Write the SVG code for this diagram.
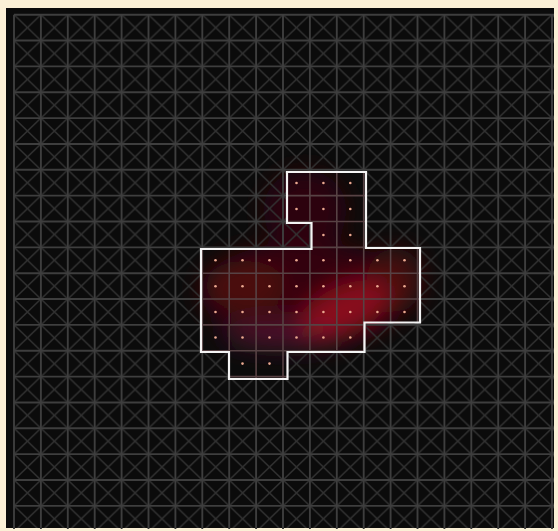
<svg xmlns="http://www.w3.org/2000/svg" xmlns:xlink="http://www.w3.org/1999/xlink" width="558" height="531" viewBox="0 0 558 531">
<style>
.dot{fill:#eaa890;}
.outline{fill:none;stroke:#f4f4f4;stroke-width:2.2;stroke-linejoin:miter;}
</style>
<defs>
<filter id="blur" x="-50%" y="-50%" width="200%" height="200%"><feGaussianBlur stdDeviation="12"/></filter>
<pattern id="diag" patternUnits="userSpaceOnUse" x="14" y="14.7" width="26.9" height="25.85">
<path d="M0 0L26.9 25.85M26.9 0L0 25.85" stroke="#323232" stroke-width="1.5" fill="none"/>
</pattern>
<path id="shape" d="M287 172H366V248H420V322.5H364.5V352H287.5V379H229V352H201V249H311.5V223H287Z"/>
<mask id="outside"><rect x="0" y="0" width="558" height="531" fill="#fff"/><use xlink:href="#shape" fill="#000"/></mask>
<clipPath id="inside"><use xlink:href="#shape"/></clipPath>
<path id="ortho" fill="none" d="M14 14.7V529M40.9 14.7V529M67.8 14.7V529M94.7 14.7V529M121.6 14.7V529M148.5 14.7V529M175.4 14.7V529M202.3 14.7V529M229.2 14.7V529M256.1 14.7V529M283 14.7V529M309.9 14.7V529M336.8 14.7V529M363.7 14.7V529M390.6 14.7V529M417.5 14.7V529M444.4 14.7V529M471.3 14.7V529M498.2 14.7V529M525.1 14.7V529M552 14.7V529M14 14.7H554M14 40.55H554M14 66.4H554M14 92.25H554M14 118.1H554M14 143.95H554M14 169.8H554M14 195.65H554M14 221.5H554M14 247.35H554M14 273.2H554M14 299.05H554M14 324.9H554M14 350.75H554M14 376.6H554M14 402.45H554M14 428.3H554M14 454.15H554M14 480H554M14 505.85H554"/>
</defs>
<rect x="0" y="0" width="558" height="531" fill="#fbf0d6"/>
<rect x="6" y="8" width="548" height="520" fill="#0b0b0b"/>
<g id="glow" filter="url(#blur)">
<ellipse cx="305" cy="292" rx="105" ry="50" fill="#380709" opacity="0.9"/>
<ellipse cx="305" cy="210" rx="42" ry="40" fill="#32060a" opacity="0.85"/>
<ellipse cx="245" cy="285" rx="40" ry="24" fill="#520a12" opacity="0.8"/>
<ellipse cx="395" cy="280" rx="28" ry="32" fill="#500a14" opacity="0.8"/>
<ellipse cx="285" cy="334" rx="62" ry="14" fill="#5a1836" opacity="0.75"/>
<ellipse cx="345" cy="310" rx="46" ry="24" fill="#a01424" opacity="0.8" transform="rotate(-25 345 310)"/>
</g>
<g id="grid" mask="url(#outside)">
<rect x="14" y="14.7" width="540" height="513.3" fill="url(#diag)"/>
<use xlink:href="#ortho" stroke="#3e3e3e" stroke-width="1.9"/>
</g>
<g id="region" clip-path="url(#inside)">
<use xlink:href="#ortho" stroke="#574244" stroke-width="1.6"/>
</g>
<g id="dots">
<circle class="dot" cx="296.5" cy="183" r="1.3"/><circle class="dot" cx="323.4" cy="183" r="1.3"/><circle class="dot" cx="350.3" cy="183" r="1.3"/>
<circle class="dot" cx="296.5" cy="209" r="1.3"/><circle class="dot" cx="323.4" cy="209" r="1.3"/><circle class="dot" cx="350.3" cy="209" r="1.3"/>
<circle class="dot" cx="323.4" cy="235" r="1.3"/><circle class="dot" cx="350.3" cy="235" r="1.3"/>
<circle class="dot" cx="215.5" cy="260.3" r="1.3"/><circle class="dot" cx="242.5" cy="260.3" r="1.3"/><circle class="dot" cx="269.5" cy="260.3" r="1.3"/><circle class="dot" cx="296.5" cy="260.3" r="1.3"/><circle class="dot" cx="323.4" cy="260.3" r="1.3"/><circle class="dot" cx="350.3" cy="260.3" r="1.3"/><circle class="dot" cx="377.4" cy="260.3" r="1.3"/><circle class="dot" cx="404.5" cy="260.3" r="1.3"/>
<circle class="dot" cx="215.5" cy="286.2" r="1.3"/><circle class="dot" cx="242.5" cy="286.2" r="1.3"/><circle class="dot" cx="269.5" cy="286.2" r="1.3"/><circle class="dot" cx="296.5" cy="286.2" r="1.3"/><circle class="dot" cx="323.4" cy="286.2" r="1.3"/><circle class="dot" cx="350.3" cy="286.2" r="1.3"/><circle class="dot" cx="377.4" cy="286.2" r="1.3"/><circle class="dot" cx="404.5" cy="286.2" r="1.3"/>
<circle class="dot" cx="215.5" cy="312" r="1.3"/><circle class="dot" cx="242.5" cy="312" r="1.3"/><circle class="dot" cx="269.5" cy="312" r="1.3"/><circle class="dot" cx="296.5" cy="312" r="1.3"/><circle class="dot" cx="323.4" cy="312" r="1.3"/><circle class="dot" cx="350.3" cy="312" r="1.3"/><circle class="dot" cx="377.4" cy="312" r="1.3"/><circle class="dot" cx="404.5" cy="312" r="1.3"/>
<circle class="dot" cx="215.5" cy="337.5" r="1.3"/><circle class="dot" cx="242.5" cy="337.5" r="1.3"/><circle class="dot" cx="269.5" cy="337.5" r="1.3"/><circle class="dot" cx="296.5" cy="337.5" r="1.3"/><circle class="dot" cx="323.4" cy="337.5" r="1.3"/><circle class="dot" cx="350.3" cy="337.5" r="1.3"/>
<circle class="dot" cx="242.5" cy="363.6" r="1.3"/><circle class="dot" cx="269.5" cy="363.6" r="1.3"/>
</g>
<g id="boundary">
<use xlink:href="#shape" class="outline"/>
</g>
</svg>
